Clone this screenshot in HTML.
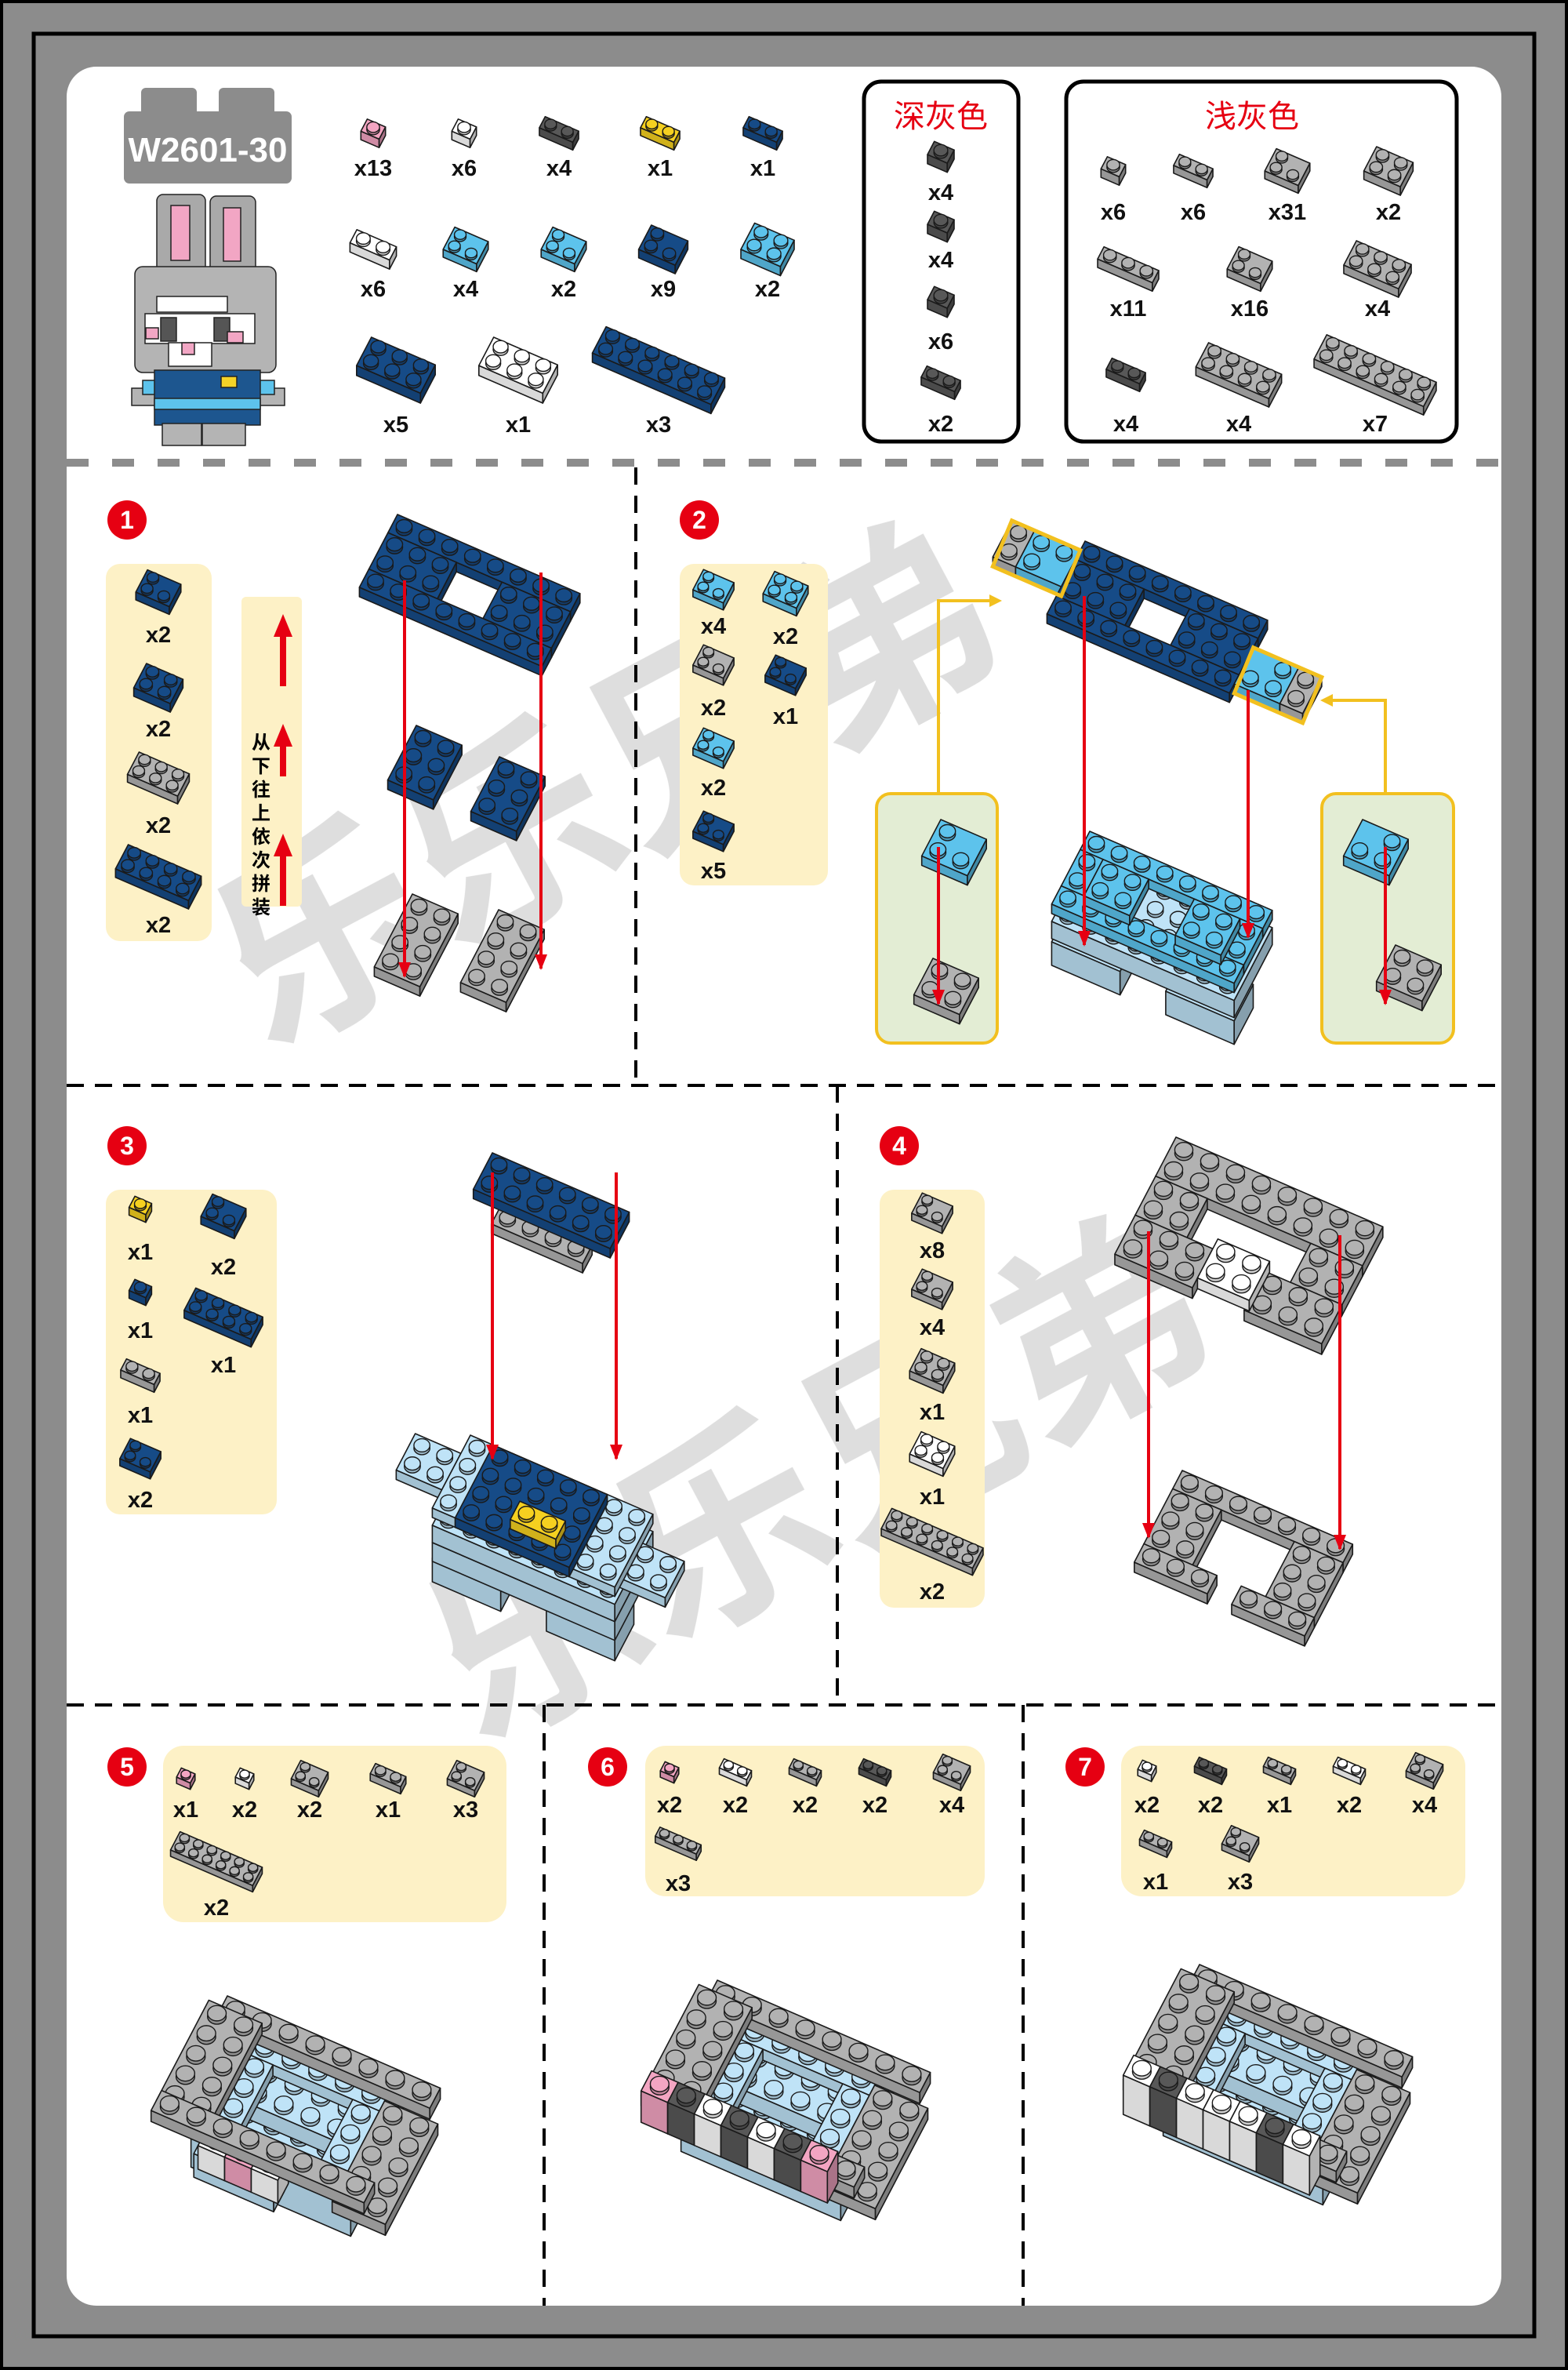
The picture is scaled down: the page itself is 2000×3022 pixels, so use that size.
<!DOCTYPE html>
<html><head><meta charset="utf-8"><style>
html,body{margin:0;padding:0;background:#8c8c8c}
svg{display:block}
text{font-family:"Liberation Sans","Noto Sans CJK SC",sans-serif}
</style></head><body>
<svg id="svg" width="2000" height="3022" viewBox="0 0 2000 3022" xmlns="http://www.w3.org/2000/svg">
<rect x="0" y="0" width="2000" height="3022" fill="#8c8c8c" stroke="#000" stroke-width="8"/>
<rect x="43" y="43" width="1914" height="2936" fill="none" stroke="#000" stroke-width="5"/>
<rect x="85" y="85" width="1830" height="2855" rx="38" fill="#fff"/>
<g fill="#000" opacity="0.13" font-weight="bold" font-size="270">
<text x="0" y="0" transform="translate(340,1340) rotate(-28)" font-family="Noto Sans CJK SC,sans-serif">乐乐兄弟</text>
<text x="0" y="0" transform="translate(610,2225) rotate(-28)" font-family="Noto Sans CJK SC,sans-serif">乐乐兄弟</text>
</g>
<line x1="85" y1="590" x2="1915" y2="590" stroke="#8c8c8c" stroke-width="10" stroke-dasharray="28,30"/>
<g stroke="#000" stroke-width="4" stroke-dasharray="22,14">
<line x1="811" y1="596" x2="811" y2="1384"/>
<line x1="85" y1="1384" x2="1915" y2="1384"/>
<line x1="1068" y1="1384" x2="1068" y2="2174"/>
<line x1="85" y1="2174" x2="1915" y2="2174"/>
<line x1="694" y1="2174" x2="694" y2="2940"/>
<line x1="1305" y1="2174" x2="1305" y2="2940"/>
</g>
<g fill="#8c8c8c"><rect x="180" y="112" width="71" height="40" rx="6"/><rect x="279" y="112" width="71" height="40" rx="6"/><rect x="158" y="142" width="214" height="92" rx="7"/></g>
<text x="265" y="206" font-size="44" font-weight="bold" fill="#fff" text-anchor="middle">W2601-30</text>
<g stroke="#222" stroke-width="1.5">
<rect x="200" y="248" width="62" height="100" rx="8" fill="#a9a9a9"/><rect x="218" y="262" width="24" height="70" fill="#f2a6c4"/>
<rect x="268" y="250" width="58" height="98" rx="8" fill="#a9a9a9"/><rect x="285" y="265" width="22" height="68" fill="#f2a6c4"/>
<rect x="172" y="340" width="180" height="135" rx="10" fill="#b4b4b4"/>
<rect x="200" y="378" width="90" height="20" fill="#fff"/>
<rect x="185" y="400" width="140" height="38" fill="#fff"/>
<rect x="205" y="405" width="20" height="30" fill="#555"/><rect x="273" y="405" width="20" height="30" fill="#555"/>
<rect x="186" y="418" width="16" height="14" fill="#f2a6c4"/><rect x="290" y="423" width="20" height="14" fill="#f2a6c4"/>
<rect x="215" y="437" width="55" height="30" fill="#fff"/><rect x="232" y="437" width="16" height="15" fill="#f2a6c4"/>
<rect x="168" y="495" width="50" height="22" fill="#b4b4b4"/><rect x="313" y="495" width="50" height="22" fill="#b4b4b4"/>
<rect x="182" y="485" width="45" height="18" fill="#5dc3ec"/><rect x="305" y="485" width="45" height="18" fill="#5dc3ec"/>
<rect x="197" y="472" width="135" height="70" fill="#1d568f"/><rect x="197" y="508" width="135" height="14" fill="#5dc3ec"/>
<rect x="282" y="480" width="20" height="14" fill="#f5d327"/>
<rect x="207" y="540" width="50" height="28" fill="#b4b4b4"/><rect x="258" y="540" width="55" height="28" fill="#b4b4b4"/>
</g>
<rect x="1102" y="104" width="197" height="459" rx="22" fill="none" stroke="#000" stroke-width="5"/>
<rect x="1360" y="104" width="498" height="459" rx="22" fill="none" stroke="#000" stroke-width="5"/>
<text x="1200" y="162" font-size="40" fill="#e60012" text-anchor="middle" font-family="Noto Sans CJK SC,sans-serif">深灰色</text>
<text x="1597" y="162" font-size="40" fill="#e60012" text-anchor="middle" font-family="Noto Sans CJK SC,sans-serif">浅灰色</text>
<g fill="#fdf1c6">
<rect x="135" y="719" width="135" height="481" rx="18"/>
<rect x="308" y="761" width="77" height="395" rx="6"/>
<rect x="867" y="719" width="189" height="410" rx="18"/>
<rect x="135" y="1517" width="218" height="414" rx="18"/>
<rect x="1122" y="1517" width="134" height="533" rx="18"/>
<rect x="208" y="2226" width="438" height="225" rx="26"/>
<rect x="823" y="2226" width="433" height="192" rx="26"/>
<rect x="1430" y="2226" width="439" height="192" rx="26"/>
</g>
<g fill="#e3edd4" stroke="#f2c01f" stroke-width="4">
<rect x="1118" y="1012" width="154" height="318" rx="18"/>
<rect x="1686" y="1012" width="168" height="318" rx="18"/>
</g>
<g fill="#e60012">
<rect x="357" y="810" width="8" height="65"/><polygon points="349,812 373,812 361,783"/>
<rect x="357" y="950" width="8" height="40"/><polygon points="349,952 373,952 361,923"/>
<rect x="357" y="1090" width="8" height="65"/><polygon points="349,1092 373,1092 361,1063"/>
</g>
<text font-size="24" font-weight="bold" fill="#000" text-anchor="middle" font-family="Noto Sans CJK SC,sans-serif">
<tspan x="333" y="955">从</tspan><tspan x="333" y="985">下</tspan><tspan x="333" y="1015">往</tspan><tspan x="333" y="1045">上</tspan><tspan x="333" y="1075">依</tspan><tspan x="333" y="1105">次</tspan><tspan x="333" y="1135">拼</tspan><tspan x="333" y="1165">装</tspan>
</text>
<g fill="#e60012"><circle cx="162" cy="663" r="25"/><circle cx="892" cy="663" r="25"/><circle cx="162" cy="1461" r="25"/><circle cx="1147" cy="1461" r="25"/><circle cx="162" cy="2253" r="25"/><circle cx="775" cy="2253" r="25"/><circle cx="1384" cy="2253" r="25"/></g>
<g fill="#fff" font-size="32" font-weight="bold" text-anchor="middle">
<text x="162" y="674">1</text><text x="892" y="674">2</text><text x="162" y="1472">3</text><text x="1147" y="1472">4</text><text x="162" y="2264">5</text><text x="775" y="2264">6</text><text x="1384" y="2264">7</text>
</g>
<g id="bricks"></g>
<g id="lines"></g>
<g font-size="29" font-weight="bold" fill="#111" text-anchor="middle">
<text x="476" y="224">x13</text><text x="592" y="224">x6</text><text x="713" y="224">x4</text><text x="842" y="224">x1</text><text x="973" y="224">x1</text>
<text x="476" y="378">x6</text><text x="594" y="378">x4</text><text x="719" y="378">x2</text><text x="846" y="378">x9</text><text x="979" y="378">x2</text>
<text x="505" y="551">x5</text><text x="661" y="551">x1</text><text x="840" y="551">x3</text>
<text x="1200" y="255">x4</text><text x="1200" y="341">x4</text><text x="1200" y="445">x6</text><text x="1200" y="550">x2</text>
<text x="1420" y="280">x6</text><text x="1522" y="280">x6</text><text x="1642" y="280">x31</text><text x="1771" y="280">x2</text>
<text x="1439" y="403">x11</text><text x="1594" y="403">x16</text><text x="1757" y="403">x4</text>
<text x="1436" y="550">x4</text><text x="1580" y="550">x4</text><text x="1754" y="550">x7</text>
<text x="202" y="819">x2</text><text x="202" y="939">x2</text><text x="202" y="1062">x2</text><text x="202" y="1189">x2</text>
<text x="910" y="808">x4</text><text x="1002" y="821">x2</text><text x="910" y="912">x2</text><text x="1002" y="923">x1</text><text x="910" y="1014">x2</text><text x="910" y="1120">x5</text>
<text x="179" y="1606">x1</text><text x="285" y="1625">x2</text><text x="179" y="1706">x1</text><text x="285" y="1750">x1</text><text x="179" y="1814">x1</text><text x="179" y="1922">x2</text>
<text x="1189" y="1604">x8</text><text x="1189" y="1702">x4</text><text x="1189" y="1810">x1</text><text x="1189" y="1918">x1</text><text x="1189" y="2039">x2</text>
<text x="237" y="2317">x1</text><text x="312" y="2317">x2</text><text x="395" y="2317">x2</text><text x="495" y="2317">x1</text><text x="594" y="2317">x3</text><text x="276" y="2442">x2</text>
<text x="854" y="2311">x2</text><text x="938" y="2311">x2</text><text x="1027" y="2311">x2</text><text x="1116" y="2311">x2</text><text x="1214" y="2311">x4</text><text x="865" y="2411">x3</text>
<text x="1463" y="2311">x2</text><text x="1544" y="2311">x2</text><text x="1632" y="2311">x1</text><text x="1721" y="2311">x2</text><text x="1817" y="2311">x4</text><text x="1474" y="2409">x1</text><text x="1582" y="2409">x3</text>
</g>
</svg>
<script>
const NS="http://www.w3.org/2000/svg";
const G=document.getElementById('bricks'), L=document.getElementById('lines');
const DB="#164b87",LB="#5dc3ec",PB="#bfe3f7",GR="#b2b2b2",DG="#585858",WH="#ffffff",PK="#f3a5c2",YE="#f5d020";
function sh(h,f){let n=parseInt(h.slice(1),16);let r=(n>>16)&255,g=(n>>8)&255,b=n&255;return `rgb(${Math.round(r*f)},${Math.round(g*f)},${Math.round(b*f)})`;}
function el(t,a,p){const e=document.createElementNS(NS,t);for(const k in a)e.setAttribute(k,a[k]);(p||G).appendChild(e);return e;}
function poly(pts,fill){el('polygon',{points:pts.map(p=>p.join(',')).join(' '),fill:fill,stroke:'#1a1a1a','stroke-width':1.6,'stroke-linejoin':'round'});}
let FLAT=1;
function UV(s){return [[s*0.97,s*0.42],[-s*0.45*FLAT,s*0.86*FLAT]];}
function brick(x,y,nu,nv,col,s,h,skip){
 const [u,v]=UV(s); h=h==null?s*0.4:h;
 const A=[x,y],B=[x+nu*u[0],y+nu*u[1]],D=[x+nv*v[0],y+nv*v[1]],C=[B[0]+nv*v[0],B[1]+nv*v[1]];
 poly([D,C,[C[0],C[1]+h],[D[0],D[1]+h]],sh(col,0.85));
 poly([C,B,[B[0],B[1]+h],[C[0],C[1]+h]],sh(col,0.7));
 poly([A,B,C,D],col);
 for(let j=0;j<nv;j++)for(let i=0;i<nu;i++){
  if(skip&&skip(i,j))continue;
  const cx=x+(i+.5)*u[0]+(j+.5)*v[0], cy=y+(i+.5)*u[1]+(j+.5)*v[1];
  el('ellipse',{cx:cx,cy:cy+s*0.02,rx:s*0.34,ry:s*0.28,fill:sh(col,0.8),stroke:'#1a1a1a','stroke-width':1.4});
  el('ellipse',{cx:cx,cy:cy-s*0.1,rx:s*0.34,ry:s*0.28,fill:col,stroke:'#1a1a1a','stroke-width':1.4});
 }
}
function at(x,y,i,j,s){const [u,v]=UV(s);return [x+i*u[0]+j*v[0],y+i*u[1]+j*v[1]];}
function bat(x,y,i,j,nu,nv,col,s,h,skip){const p=at(x,y,i,j,s);brick(p[0],p[1],nu,nv,col,s,h,skip);}
function icon(cx,cy,nu,nv,col,s,skip){FLAT=0.75;const [u,v]=UV(s);const h=s*0.45;
 const x=cx-(nu/2*u[0]+nv/2*v[0]), y=cy-(nu/2*u[1]+nv/2*v[1])-h/2; brick(x,y,nu,nv,col,s,h,skip);FLAT=1;}
function frame(x,y,nu,nv,col,s,h,w){w=w||1;
 brick(x,y,nu,w,col,s,h);
 bat(x,y,0,w,w,nv-2*w,col,s,h); bat(x,y,nu-w,w,w,nv-2*w,col,s,h);
 bat(x,y,0,nv-w,nu,w,col,s,h);}
function red(x,y1,y2){el('line',{x1:x,y1:y1,x2:x,y2:y2,stroke:'#e60012','stroke-width':4},L);
 el('polygon',{points:`${x-8},${y2-18} ${x+8},${y2-18} ${x},${y2+2}`,fill:'#e60012'},L);}
const L1=(i,j)=>i==1&&j==0;
icon(476,170,1,1,PK,24);icon(592,170,1,1,WH,24);icon(713,170,2,1,DG,22);icon(842,170,2,1,YE,22);icon(973,170,2,1,DB,22);
icon(476,318,2,1,WH,26);icon(594,318,2,2,LB,22,L1);icon(719,318,2,2,LB,22,L1);icon(846,318,2,2,DB,24,L1);icon(979,318,2,2,LB,26);
icon(505,472,3,2,DB,28);icon(661,472,3,2,WH,28);icon(840,472,6,2,DB,26);
icon(1200,200,1,1,DG,26);icon(1200,289,1,1,DG,26);icon(1200,385,1,1,DG,26);icon(1200,488,2,1,DG,22);
icon(1420,218,1,1,GR,24);icon(1522,218,2,1,GR,22);icon(1642,218,2,2,GR,22,L1);icon(1771,218,2,2,GR,24);
icon(1439,343,3,1,GR,24);icon(1594,343,2,2,GR,22,L1);icon(1757,343,3,2,GR,24);
icon(1436,478,2,1,DG,22);icon(1580,478,4,2,GR,24);icon(1754,478,6,2,GR,24);
icon(202,755,2,2,DB,22,L1);icon(202,877,2,2,DB,24);icon(202,992,3,2,GR,22);icon(202,1118,4,2,DB,24);
let s=30;
FLAT=0.9;
(function(){const x=507,y=656;brick(x,y,8,1,DB,s);bat(x,y,0,1,3,2,DB,s);bat(x,y,5,1,3,2,DB,s);bat(x,y,0,3,8,1,DB,s);})();
brick(531,925,2,3,DB,s);brick(637,965,2,3,DB,s);
brick(526,1140,2,4,GR,s);brick(636,1160,2,4,GR,s);
red(516,740,1245);red(690,730,1235);
icon(910,752,2,2,LB,20,L1);icon(1002,757,2,2,LB,22);icon(910,848,2,2,GR,20,L1);icon(1002,861,2,2,DB,20,L1);icon(910,954,2,2,LB,20,L1);icon(910,1060,2,2,DB,20,L1);
FLAT=0.9;
(function(){const x=1384,y=690;
 bat(x,y,-3,0.5,1,2,GR,s);bat(x,y,-2,0.5,2,2,LB,s,null,(i,j)=>i==1&&j==1);
 brick(x,y,8,1,DB,s);bat(x,y,0,1,3,2,DB,s);bat(x,y,5,1,3,2,DB,s);bat(x,y,0,3,8,1,DB,s);
 bat(x,y,8,1.5,2,2,LB,s,null,(i,j)=>i==0&&j==0);bat(x,y,10,1.5,1,2,GR,s);
 const p=(i,j,dy)=>{const q=at(x,y,i,j,s);return (q[0])+','+(q[1]+(dy||0));};
 el('polygon',{points:[p(-3,0.5),p(0,0.5),p(0,2.5,12),p(-3,2.5,12)].join(' '),fill:'none',stroke:'#f2c01f','stroke-width':5},L);
 el('polygon',{points:[p(8,1.5),p(11,1.5),p(11,3.5,12),p(8,3.5,12)].join(' '),fill:'none',stroke:'#f2c01f','stroke-width':5},L);
})();
(function(){const x=1390,y=1060;
 const q1=at(x,y,0,2,s),q2=at(x,y,5,2,s);
 brick(q1[0],q1[1]+48,3,2,PB,s,30);brick(q2[0],q2[1]+48,3,2,PB,s,30);
 brick(x,y+22,8,4,PB,s,22);
 frame(x,y,8,4,LB,s,null,1);
 bat(x,y,1,1,2,2,LB,s);bat(x,y,5,1,2,2,LB,s);
})();
brick(1200,1045,2,2,LB,s,null,(i,j)=>i==1&&j==0);brick(1190,1222,2,2,GR,s);
brick(1738,1045,2,2,LB,s,null,(i,j)=>i==0&&j==0);brick(1780,1205,2,2,GR,s);
red(1197,1080,1280);red(1767,1080,1280);
red(1383,760,1205);red(1592,880,1195);
el('polyline',{points:'1197,1012 1197,766 1262,766',fill:'none',stroke:'#f2c01f','stroke-width':4},L);
el('polygon',{points:'1262,758 1262,774 1278,766',fill:'#f2c01f'},L);
el('polyline',{points:'1767,1012 1767,893 1700,893',fill:'none',stroke:'#f2c01f','stroke-width':4},L);
el('polygon',{points:'1700,885 1700,901 1684,893',fill:'#f2c01f'},L);
icon(179,1542,1,1,YE,22);icon(285,1551,2,2,DB,22,L1);icon(179,1648,1,1,DB,22);icon(285,1680,4,2,DB,22);icon(179,1754,2,1,GR,22);icon(179,1860,2,2,DB,20,L1);
FLAT=0.9;
bat(628,1490,1,1.5,4,1,GR,s);brick(628,1470,6,2,DB,s);
(function(){const x=600,y=1830;
 const q1=at(x,y,0,2,s),q2=at(x,y,5,2,s);
 brick(q1[0],q1[1]+64,3,2,PB,s,30);brick(q2[0],q2[1]+64,3,2,PB,s,30);
 brick(x,y+44,8,4,PB,s,24);brick(x,y+22,8,4,PB,s,22);
 bat(x,y,-2,1,2,2,PB,s);bat(x,y,8,1.5,2,2,PB,s);
 brick(x,y,8,4,PB,s);
 bat(x,y,1,0,5,4,DB,s);bat(x,y,3,2,2,1,YE,s);
})();
red(628,1495,1860);red(786,1495,1860);
icon(1189,1547,2,2,GR,20,L1);icon(1189,1644,2,2,GR,20,L1);icon(1189,1748,2,2,GR,22);icon(1189,1854,2,2,WH,22);icon(1189,1966,6,2,GR,20);
s=32;FLAT=0.85;
(function(){const x=1508,y=1875;brick(x,y,7,1,GR,s);bat(x,y,0,1,2,3,GR,s);bat(x,y,5,1,2,3,GR,s);bat(x,y,0,4,3,1,GR,s);bat(x,y,4,4,3,1,GR,s);})();
s=34;
(function(){const x=1500,y=1450;brick(x,y,8,2,GR,s);bat(x,y,0,2,2,2,GR,s);bat(x,y,6,2,2,2,GR,s);bat(x,y,0,4,3,2,GR,s);bat(x,y,5,4,3,2,GR,s);bat(x,y,3,3.5,2,2,WH,s);})();
red(1465,1570,1960);red(1709,1575,1975);
icon(237,2268,1,1,PK,18);icon(312,2268,1,1,WH,18);icon(395,2268,2,2,GR,18,L1);icon(495,2268,2,1,GR,20);icon(594,2268,2,2,GR,18,L1);icon(276,2374,6,2,GR,18);
icon(854,2260,1,1,PK,18);icon(938,2260,2,1,WH,18);icon(1027,2260,2,1,GR,18);icon(1116,2260,2,1,DG,18);icon(1214,2260,2,2,GR,18,L1);icon(865,2351,3,1,GR,18);
icon(1463,2258,1,1,WH,18);icon(1544,2258,2,1,DG,18);icon(1632,2258,2,1,GR,18);icon(1721,2258,2,1,WH,18);icon(1817,2258,2,2,GR,18,L1);icon(1474,2351,2,1,GR,18);icon(1582,2351,2,2,GR,18,L1);
s=35;FLAT=0.85;
function assembly(x,y,front){
 bat(x,y,1,1,6,5,PB,s,50);
 bat(x,y,2,2,4,2,PB,s,20);
 bat(x,y,1.5,1,5,1,PB,s);bat(x,y,1.5,2,1,3,PB,s);bat(x,y,5.5,2,1,3,PB,s);
 brick(x,y,8,1,GR,s);bat(x,y,-0.5,0.5,2,5,GR,s);bat(x,y,6.5,1.5,2,5,GR,s);
 front(x,y);
 bat(x,y,-0.5,5,8,1,GR,s);
}
assembly(290,2545,(x,y)=>{bat(x,y,1.5,6,3,1,PB,s,30);bat(x,y,1.5,5.6,1,1,WH,s,30);bat(x,y,2.5,5.6,1,1,PK,s,30);bat(x,y,3.5,5.6,1,1,WH,s,30);});
assembly(915,2525,(x,y)=>{});
(function(){const c=[PK,DG,WH,DG,WH,DG,PK];for(let i=0;i<7;i++)bat(915,2520,i-0.5,5,1,1,c[i],s,40);})();
assembly(1530,2505,(x,y)=>{});
(function(){const c=[WH,DG,WH,WH,WH,DG,WH];for(let i=0;i<7;i++)bat(1530,2500,i-0.5,5,1,1,c[i],s,50);})();
</script>
</body></html>
